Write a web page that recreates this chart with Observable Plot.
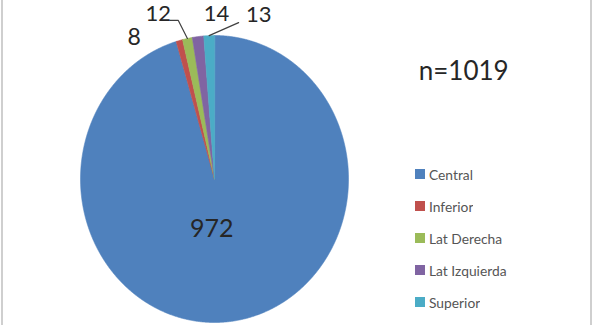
<!DOCTYPE html>
<html>
<head>
<meta charset="utf-8">
<script src="https://cdn.jsdelivr.net/npm/d3@7"></script>
<script src="https://cdn.jsdelivr.net/npm/@observablehq/plot@0.6"></script>
<style>
  html, body { margin: 0; padding: 0; background: #fff; }
  #wrap { position: relative; width: 592px; height: 325px; overflow: hidden; background: #fff; }
  #frame { position: absolute; left: 1px; top: -2px; width: 587px; height: 330px; border-left: 2px solid #cfcfcf; border-right: 2px solid #cfcfcf; pointer-events: none; }
  #legend { position: absolute; left: 415px; top: 158px; }
  .lg-swatches { margin: 0 !important; font-family: Lato, "Open Sans", sans-serif !important; font-size: 13.8px !important; color: #555 !important; }
  .lg-swatch { height: 32px; padding: 0 !important; display: flex; align-items: center; }
  .lg-swatch > svg { margin-right: 4px !important; }
</style>
</head>
<body>
<div id="wrap"><div id="chart"></div><div id="legend"></div><div id="frame"></div></div>
<script>
// ---- data ----
const categories = ["Central", "Inferior", "Lat Derecha", "Lat Izquierda", "Superior"];
const counts = [972, 8, 12, 14, 13];
const colors = ["#4F81BD", "#C0504D", "#9BBB59", "#8064A2", "#4BACC6"];
const sampleSize = "n=1019";

// label anchors in pie units (radius = 1)
const labelX = [-0.02, -0.60, -0.42, 0.015, 0.33];
const labelY = [-0.35, 0.985, 1.15, 1.15, 1.14];
const labelSize = [25, 23, 22, 22, 22];

// ---- geometry via d3.pie ----
const arcs = d3.pie().sort(null).value(d => d)(counts);
const slicePts = [];
arcs.forEach((a, i) => {
  const cat = categories[i];
  slicePts.push({cat, x: 0, y: 0});
  const n = Math.max(4, Math.ceil((a.endAngle - a.startAngle) / 0.005));
  for (let k = 0; k <= n; k++) {
    const t = a.startAngle + (a.endAngle - a.startAngle) * k / n;
    slicePts.push({cat, x: Math.sin(t), y: Math.cos(t)});
  }
});

const labels = categories.map((c, i) => ({cat: c, v: String(counts[i]), x: labelX[i], y: labelY[i], s: labelSize[i]}));

// leader lines for "12" (Lat Derecha) and "13" (Superior)
const mid = i => (arcs[i].startAngle + arcs[i].endAngle) / 2;
const leaders = [
  {id: "a", x: -0.33, y: 1.105}, {id: "a", x: -0.27, y: 1.105}, {id: "a", x: Math.sin(mid(2)), y: Math.cos(mid(2))},
  {id: "b", x: 0.18, y: 1.09}, {id: "b", x: Math.sin(mid(4)), y: Math.cos(mid(4))}
];

const plot = Plot.plot({
  width: 592,
  height: 325,
  margin: 0,
  style: {background: "transparent", overflow: "visible"},
  x: {domain: [-1, 1], range: [80, 348], axis: null},
  y: {domain: [-1, 1], range: [322, 35], axis: null},
  color: {domain: categories, range: colors},
  marks: [
    Plot.line(slicePts, {x: "x", y: "y", z: "cat", fill: "cat", stroke: "cat", strokeWidth: 0.6, curve: "linear-closed"}),
    Plot.line(leaders, {x: "x", y: "y", z: "id", stroke: "#404040", strokeWidth: 1.2}),
    Plot.text(labels, {x: "x", y: "y", text: "v", fontSize: d => d.s, fill: "#262626", fontFamily: "Lato", textAnchor: "middle"}),
    Plot.text([sampleSize], {x: [1.86], y: [0.745], text: d => d, fontSize: 26, fill: "#262626", fontFamily: "Lato", textAnchor: "middle"})
  ]
});
document.getElementById("chart").appendChild(plot);

const legend = plot.legend("color", {columns: 1, swatchSize: 10, className: "lg", style: {fontSize: "13.8px", fontFamily: "Lato", color: "#555"}});
document.getElementById("legend").appendChild(legend);
</script>
</body>
</html>
